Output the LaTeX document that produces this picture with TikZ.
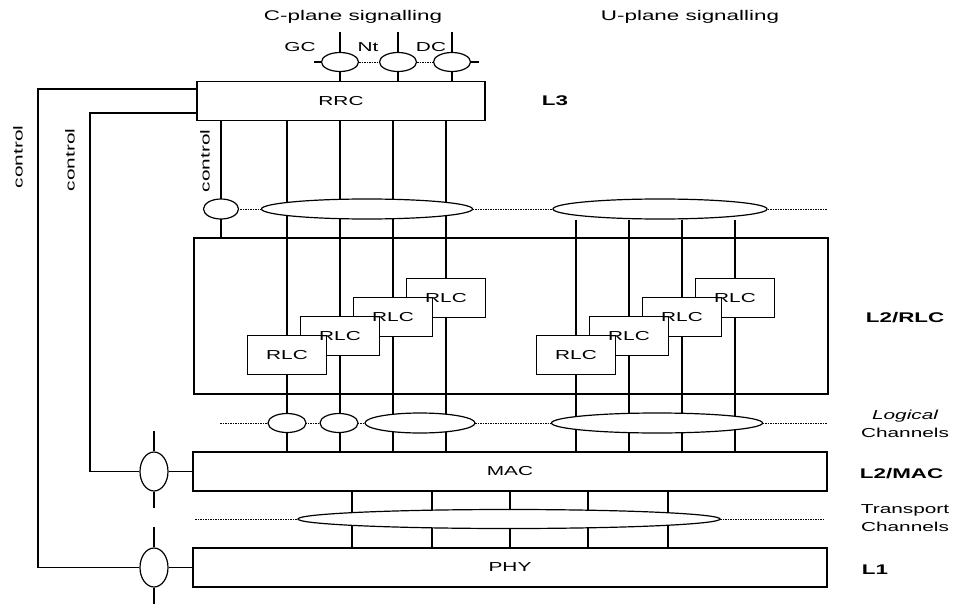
\documentclass[tikz,border=0pt]{standalone}
\usepackage{fontspec}
\setmainfont{Liberation Sans}[FakeStretch=1.6]
\usetikzlibrary{positioning, shapes.geometric}

\tikzset{
  layer/.style={draw, minimum width=634, minimum height=39, inner sep=0pt},
  rlcbox/.style={draw, fill=white, minimum width=79, minimum height=39, inner sep=0pt},
  chan/.style={ellipse, draw, fill=white, minimum height=19, inner sep=0pt},
  ctrl/.style={ellipse, draw, fill=white, minimum width=28, minimum height=39, inner sep=0pt},
  chanline/.style={line width=0.8pt, dash pattern=on 1.5pt off 1pt},
  heading/.style={font=\fontsize{14}{16}\selectfont},
  layername/.style={anchor=west, font=\fontsize{14}{16}\selectfont\bfseries},
  channame/.style={align=center, font=\fontsize{13}{18}\selectfont},
}

\begin{document}
\begin{tikzpicture}[x=1pt, y=-1pt, line width=1.2pt, font=\fontsize{13}{15}\selectfont]
  \useasboundingbox (0,0) rectangle (957,604);

  % headings
  \node[heading] (cplane) at (353,17) {C-plane signalling};
  \node[heading] (uplane) at (690,17) {U-plane signalling};

  % layers
  \node[layer, minimum width=288] (rrc) at (341,101) {RRC};
  \node[draw, minimum width=634, minimum height=156, inner sep=0pt] (rlcarea) at (511,316) {};
  \node[layer] (mac) at (510,471.5) {MAC};
  \node[layer] (phy) at (510,567.5) {PHY};

  \node[layername] (l3) at (538,101) {L3};
  \node[layername] (l2rlc) at (862,318) {L2/RLC};
  \node[layername] (l2mac) at (856,474) {L2/MAC};
  \node[layername] (l1) at (858,570) {L1};
  \node[channame] (logch) at (905,424) {\itshape Logical\\Channels};
  \node[channame] (trch) at (905,518) {Transport\\Channels};

  % C-plane service access points
  \foreach \n/\x in {gc/340, nt/398, dc/452} {
    \node[chan, minimum width=37] (\n) at (\x,62) {};
    \draw ([yshift=20pt]\n.north) -- (\n.north);
    \draw (\n.south) -- (\n.south |- rrc.north);
  }
  \draw[chanline] (gc.east) -- (nt.west);
  \draw[chanline] (nt.east) -- (dc.west);
  \draw (gc.west) -- ++(-7,0);
  \draw (dc.east) -- ++(8,0);
  \node (gclbl) at (300,47) {GC};
  \node (ntlbl) at (368,47) {Nt};
  \node (dclbl) at (431,47) {DC};

  % RLC entities
  \foreach \n/\x/\y in {a4/446/298, a3/393/317, a2/340/336, a1/287/355,
                        b4/735/298, b3/682/317, b2/629/336, b1/576/355}
    \node[rlcbox] (\n) at (\x,\y) {};
  \foreach \n in {a4,a3,a2,a1,b4,b3,b2,b1}
    \node at (\n) {RLC};

  \draw (rrc.south -| 221,0) -- (rlcarea.north -| 221,0);
  \foreach \n in {a1,a2,a3,a4} {
    \draw (\n.north |- rrc.south) -- (\n.north);
    \draw (\n.south) -- (\n.south |- mac.north);
  }
  \foreach \n in {b1,b2,b3,b4}
    \draw (\n.south) -- (\n.south |- mac.north);

  % MAC - PHY
  \foreach \x in {352,432,510,588,668}
    \draw (mac.south -| \x,0) -- (phy.north -| \x,0);

  % channel rows
  \draw[chanline] (240,209) -- (827,209);
  \draw[chanline] (220,423) -- (827,423);
  \draw[chanline] (195,519) -- (825,519);

  \node[chan, minimum width=35, minimum height=20] (ctrlsap) at (221,209) {};
  \node[chan, minimum width=211, minimum height=20] (csap) at (367,209) {};
  \node[chan, minimum width=214, minimum height=20] (usap) at (660,209) {};
  \foreach \n in {b1,b2,b3,b4}
    \draw (\n.north |- usap.south) -- (\n.north);

  \node[chan, minimum width=38] (lc1) at (287,423) {};
  \node[chan, minimum width=38] (lc2) at (339,423) {};
  \node[chan, minimum width=110, minimum height=20] (lc3) at (420,423) {};
  \node[chan, minimum width=211, minimum height=20] (lc4) at (657,423) {};
  \node[chan, minimum width=422] (tc) at (509,519) {};

  % control from RRC
  \node[ctrl] (macctl) at (154,471.5) {};
  \node[ctrl] (phyctl) at (154,567.5) {};
  \foreach \n in {macctl, phyctl} {
    \draw ([yshift=20pt]\n.north) -- (\n.north);
    \draw ([yshift=-16pt]\n.south) -- (\n.south);
  }
  \draw ([yshift=12pt]rrc.west) -| (38,567.5) -- (phyctl.west);
  \draw (phyctl.east) -- (phy.west);
  \draw ([yshift=-12pt]rrc.west) -| (90,471.5) -- (macctl.west);
  \draw (macctl.east) -- (mac.west);

  \node[rotate=90] (ctl1) at (18,157) {control};
  \node[rotate=90] (ctl2) at (70,160) {control};
  \node[rotate=90] (ctl3) at (205,161) {control};
\end{tikzpicture}
\end{document}
